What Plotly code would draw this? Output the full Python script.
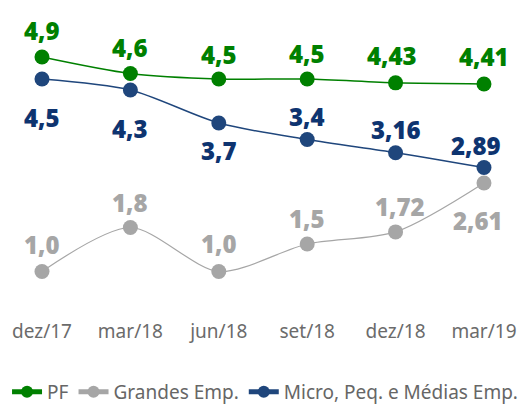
import plotly.graph_objects as go

categories = ["dez/17", "mar/18", "jun/18", "set/18", "dez/18", "mar/19"]
pf = [4.9, 4.6, 4.5, 4.5, 4.43, 4.41]
grandes = [1.0, 1.8, 1.0, 1.5, 1.72, 2.61]
micro = [4.5, 4.3, 3.7, 3.4, 3.16, 2.89]
pf_labels = ["4,9", "4,6", "4,5", "4,5", "4,43", "4,41"]
grandes_labels = ["1,0", "1,8", "1,0", "1,5", "1,72", "2,61"]
micro_labels = ["4,5", "4,3", "3,7", "3,4", "3,16", "2,89"]

GREEN = "#008000"
GRAY = "#a6a6a6"
BLUE = "#1f467c"
BLUE_TXT = "#0e3470"

x = list(range(len(categories)))

fig = go.Figure()
series = [
    ("PF", pf, GREEN, 1.5),
    ("Grandes Emp.", grandes, GRAY, 1.2),
    ("Micro, Peq. e Médias Emp.", micro, BLUE, 1.5),
]
for name, vals, col, lw in series:
    fig.add_trace(go.Scatter(
        x=x, y=vals, name=name, mode="lines+markers",
        line=dict(color=col, width=lw, shape="spline", smoothing=0.8),
        marker=dict(color=col, size=15),
    ))

# label offsets (pixels) - styling only
pf_off = [-27, -26, -25, -26, -27, -27]
gr_off = [-27, -25, -28, -26, -25, 38]
mi_off = [38, 38, 27, -23, -23, -22]

annos = []
for vals, labs, offs, col, xo in [
    (pf, pf_labels, pf_off, GREEN, [0, 0, 0, 0, -4, 0]),
    (grandes, grandes_labels, gr_off, GRAY, [0, 0, 0, 0, 4, -6]),
    (micro, micro_labels, mi_off, BLUE_TXT, [0, 0, 0, 0, 0, -8]),
]:
    for i, (v, t, o, xs) in enumerate(zip(vals, labs, offs, xo)):
        annos.append(dict(x=i, y=v, xref="x", yref="y", text=t,
                          showarrow=False, yshift=-o, xshift=xs,
                          font=dict(family="Open Sans", size=24, weight=800, color=col)))

fig.update_layout(
    width=525, height=406,
    margin=dict(l=0, r=0, t=20, b=88, autoexpand=False),
    paper_bgcolor="white", plot_bgcolor="white",
    annotations=annos,
    showlegend=True,
    legend=dict(orientation="h",
                x=0.0134, y=-0.248, xanchor="left", yanchor="middle",
                font=dict(family="Noto Sans", size=19, color="#666666"),
                itemwidth=30, itemsizing="constant", tracegroupgap=0),
    xaxis=dict(range=[-0.475, 5.464], tickvals=x, ticktext=categories,
               showgrid=False, zeroline=False, showline=False, automargin=False,
               tickfont=dict(family="Noto Sans", size=19, color="#6b6b6b")),
    yaxis=dict(range=[0.155, 5.573], visible=False, showgrid=False, automargin=False),
)

fig.write_html("out.html", config={"displayModeBar": False},
               post_script="document.body.style.margin='0px';document.body.style.overflow='hidden';")
